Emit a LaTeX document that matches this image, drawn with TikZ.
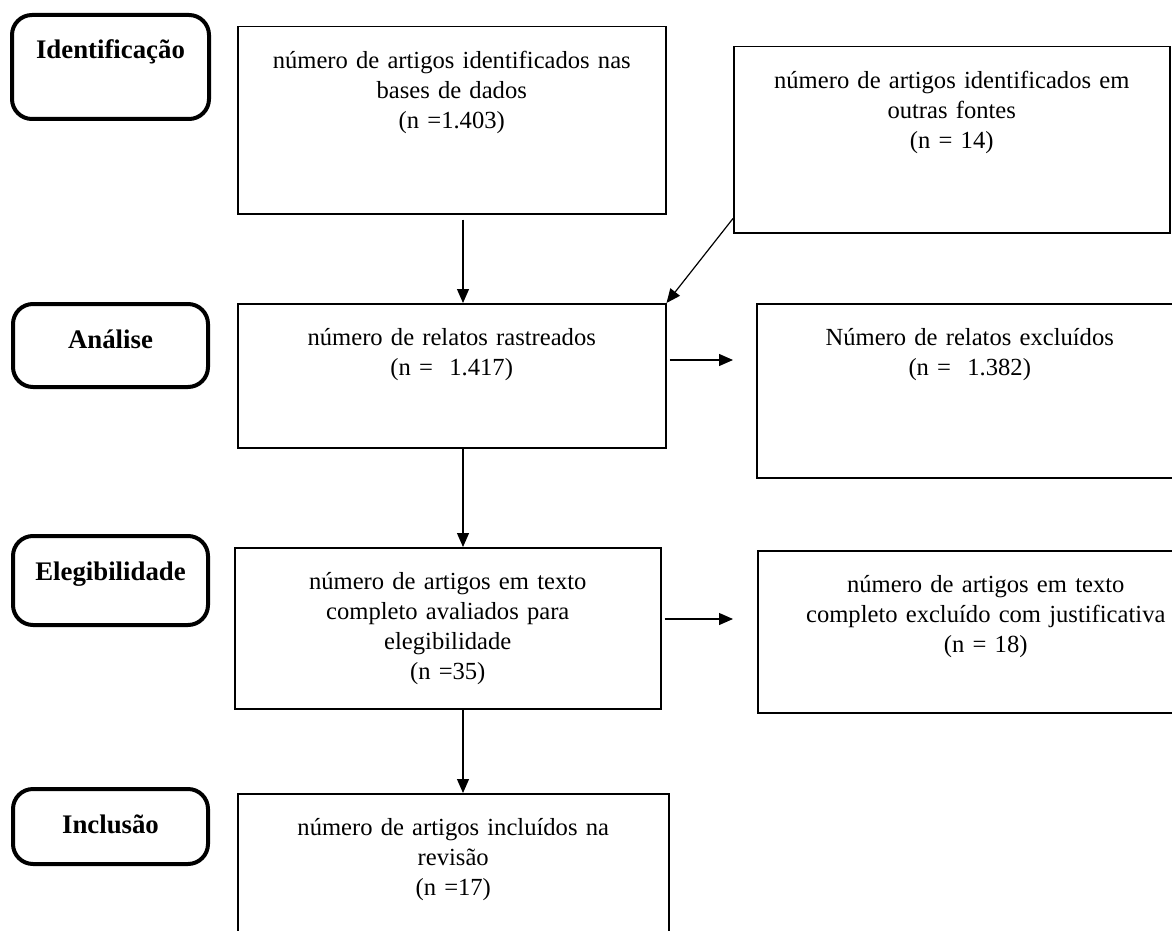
\documentclass[tikz,border=0pt]{standalone}
\usepackage{fontspec}
\setmainfont{Liberation Serif}
\usetikzlibrary{arrows.meta}

\begin{document}
\begin{tikzpicture}[x=0.5pt,y=-0.5pt,>={Triangle[length=7pt,width=6pt]},line width=0.6pt,
                    box/.style={draw,line width=0.75pt,anchor=north west,inner sep=0pt,align=center,text height=21pt,font=\fontsize{12.3}{15}\selectfont},
                    phase/.style={draw,line width=2pt,rounded corners=10pt,anchor=north west,inner sep=0pt,align=center,text height=22pt,text width=97.5pt,font=\fontsize{13.4}{16}\selectfont\bfseries}]
                    \useasboundingbox (0,0) rectangle (1172,931);
                    \clip (0,0) rectangle (1172,931);

                    % phases
                    \node[phase,text width=98.5pt,text depth=30pt] (p1) at (10,13) {Identificação};
                    \node[phase,text depth=19.5pt] (p2) at (11,302) {Análise};
                    \node[phase,text depth=22.5pt] (p3) at (11,534) {Elegibilidade};
                    \node[phase,text depth=15.5pt] (p4) at (11,787) {Inclusão};

                    % main column
                    \node[box,text width=214pt,text depth=72.5pt] (b1) at (237,26) {número de artigos identificados nas\\ bases de dados\\ (n =1.403)};
                    \node[box,text width=214pt,text depth=51pt] (b2) at (237,303) {número de relatos rastreados\\ (n =~ 1.417)};
                    \node[box,text width=213pt,text depth=59.5pt] (b3) at (234,547) {número de artigos em texto\\ completo avaliados para\\ elegibilidade\\ (n =35)};
                    \node[box,text width=215.5pt,text depth=59pt] (b4) at (237,793) {número de artigos incluídos na\\ revisão\\ (n =17)};

                    % side boxes
                    \node[box,text width=218pt,text depth=72pt] (b5) at (733,46) {número de artigos identificados em\\ outras fontes\\ (n = 14)};
                    \node[box,text width=213pt,text depth=66pt] (b6) at (756,303) {Número de relatos excluídos\\ (n =~ 1.382)};
                    \node[box,text width=228pt,text depth=60pt] (b7) at (757,550) {número de artigos em texto\\ completo excluído com justificativa\\ (n = 18)};

                    \coordinate (c1) at (463,0);
                    \coordinate (c2) at (0,360);
                    \coordinate (c3) at (0,619);

                    \draw[->,shorten <=2.5pt] (b1.south -| c1) -- (b2.north -| c1);
                    \draw[->] (b2.south -| c1) -- (b3.north -| c1);
                    \draw[->] (b3.south -| c1) -- (b4.north -| c1);
                    \draw[->] ([yshift=7.5pt]b5.south west) -- (b2.north east);
                    \draw[->,shorten <=1.5pt,shorten >=11.5pt] (b2.east |- c2) -- (b6.west |- c2);
                    \draw[->,shorten <=1.5pt,shorten >=12pt] (b3.east |- c3) -- (b7.west |- c3);
\end{tikzpicture}
\end{document}
